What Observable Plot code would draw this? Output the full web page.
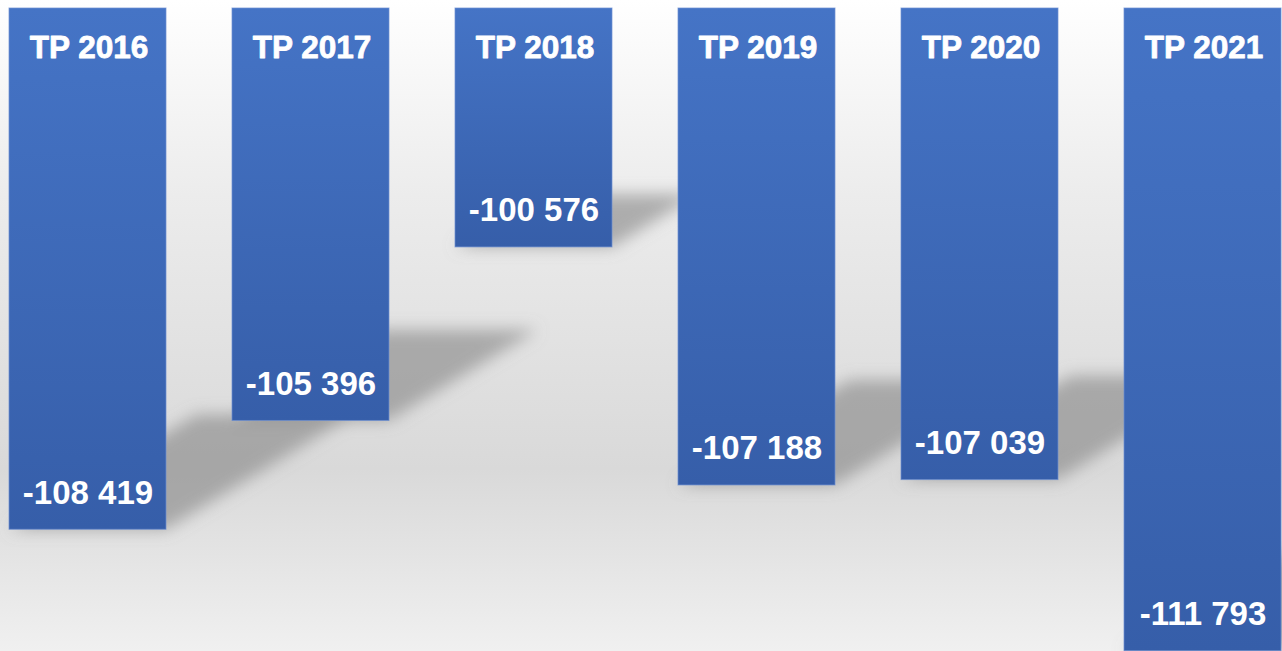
<!DOCTYPE html>
<html>
<head>
<meta charset="utf-8">
<script src="https://cdn.jsdelivr.net/npm/d3@7"></script>
<script src="https://cdn.jsdelivr.net/npm/@observablehq/plot@0.6"></script>
<style>
  html, body { margin: 0; padding: 0; background: #ffffff; overflow: hidden; }
  #chart svg { display: block; }
</style>
</head>
<body>
<div id="chart"></div>
<script>
const categories = ["TP 2016", "TP 2017", "TP 2018", "TP 2019", "TP 2020", "TP 2021"];
const values = [-108419, -105396, -100576, -107188, -107039, -111793];

const yTop = -93940;     // value at the top edge of the plot (bars hang from here)
const yBottom = -111800; // value at the bottom edge of the plot

const data = categories.map((c, i) => ({ cat: c, value: values[i] }));
const fmt = d3.formatLocale({ decimal: ",", thousands: " ", grouping: [3], minus: "-" }).format(",d");

const NS = "http://www.w3.org/2000/svg";
function el(name, attrs) {
  const e = document.createElementNS(NS, name);
  for (const k in attrs) e.setAttribute(k, attrs[k]);
  return e;
}

// defs mark: gradients and blur filter
function defsMark() {
  const g = el("g", {});
  const defs = el("defs", {});
  const bg = el("linearGradient", { id: "bgGrad", x1: 0, y1: 0, x2: 0, y2: 1 });
  [["0%", "#ffffff"], ["30%", "#ececec"], ["72%", "#d9d9d9"], ["100%", "#f0f0f0"]]
    .forEach(([o, c]) => bg.appendChild(el("stop", { offset: o, "stop-color": c })));
  const bar = el("linearGradient", { id: "barGrad", x1: 0, y1: 0, x2: 0, y2: 1 });
  [["0%", "#4574c6"], ["100%", "#365ea9"]]
    .forEach(([o, c]) => bar.appendChild(el("stop", { offset: o, "stop-color": c })));
  const f = el("filter", { id: "shadowBlur", x: "-30%", y: "-30%", width: "160%", height: "160%" });
  f.appendChild(el("feGaussianBlur", { stdDeviation: 8 }));
  defs.appendChild(bg); defs.appendChild(bar); defs.appendChild(f);
  g.appendChild(defs);
  return g;
}

// background mark
function bgMark(index, scales, values, dims) {
  return el("rect", { x: 0, y: 0, width: dims.width, height: dims.height, fill: "url(#bgGrad)" });
}

const shadowLayer = el("g", { filter: "url(#shadowBlur)", fill: "#868686", "fill-opacity": 0.62 });
function shadowMark() { return shadowLayer; }

const plot = Plot.plot({
  width: 1282,
  height: 651,
  marginTop: 8,
  marginBottom: 0,
  marginLeft: 8,
  marginRight: 1,
  x: { domain: categories, paddingInner: 0.297, paddingOuter: 0, axis: null },
  y: { domain: [yBottom, yTop], axis: null },
  style: { background: "transparent", overflow: "visible" },
  marks: [
    defsMark,
    bgMark,
    shadowMark,
    Plot.barY(data, {
      x: "cat",
      y1: () => yTop,
      y2: "value",
      fill: "url(#barGrad)",
      stroke: "#6c8fd2",
      strokeWidth: 1,
      strokeOpacity: 0.7
    }),
    Plot.text(data, {
      x: "cat",
      y: () => yTop,
      text: "cat",
      lineAnchor: "bottom",
      dy: 49,
      dx: 1,
      fill: "white",
      stroke: "white",
      strokeWidth: 0.8,
      fontSize: 31.5,
      fontWeight: "bold",
      fontFamily: "Liberation Sans, Arial, sans-serif"
    }),
    Plot.text(data, {
      x: "cat",
      y: "value",
      text: d => fmt(d.value),
      lineAnchor: "bottom",
      dy: -26,
      fill: "white",
      fontSize: 33,
      fontWeight: "bold",
      fontFamily: "Liberation Sans, Arial, sans-serif",
      letterSpacing: 0.8
    })
  ]
});

// build perspective shadows from the plot's own scales
const xs = plot.scale("x");
const ys = plot.scale("y");
const bw = xs.bandwidth;
data.forEach(d => {
  const xL = xs.apply(d.cat);
  const xR = xL + bw;
  const yB = ys.apply(d.value);
  const yT = ys.apply(yTop);
  const len = yB - yT;
  const dy = 0.22 * len;
  const dx = 0.36 * len;
  const pts = [[xL, yB], [xR, yB], [xR + dx, yB - dy], [xL + dx, yB - dy]];
  shadowLayer.appendChild(el("polygon", { points: pts.map(p => p.join(",")).join(" ") }));
});

document.getElementById("chart").appendChild(plot);
</script>
</body>
</html>
